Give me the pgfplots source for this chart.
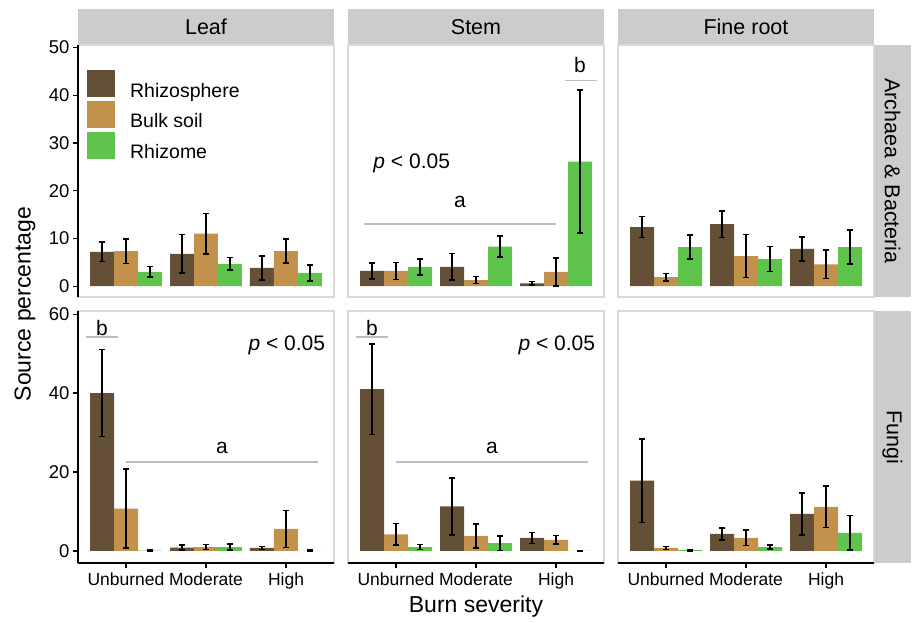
\documentclass[border=0pt]{standalone}
\usepackage{pgfplots}
\pgfplotsset{compat=1.18}
\usepackage{pgfplotstable}
\usepackage{fontspec}
\setmainfont{Liberation Sans}
\definecolor{crh}{HTML}{635036}
\definecolor{cbs}{HTML}{C2914B}
\definecolor{crz}{HTML}{5EC44C}
\definecolor{stripc}{HTML}{CCCCCC}
\definecolor{pborder}{HTML}{D9D9D9}
\definecolor{annot}{HTML}{BDBDBD}

% x: burn severity (1 Unburned, 2 Moderate, 3 High); rh/bs/rz = Rhizosphere/Bulk soil/Rhizome, *e = error
\pgfplotstableread{
x rh rhe bs bse rz rze
1 7.2 2.0 7.35 2.6 3.0 1.1
2 6.8 4.0 11.0 4.2 4.7 1.3
3 3.85 2.5 7.35 2.5 2.8 1.65
}\leafAB
\pgfplotstableread{
x rh rhe bs bse rz rze
1 3.2 1.7 3.2 1.8 4.05 1.65
2 4.05 2.8 1.3 0.7 8.3 2.2
3 0.6 0.4 3.0 2.9 26.1 15.0
}\stemAB
\pgfplotstableread{
x rh rhe bs bse rz rze
1 12.4 2.2 1.9 0.8 8.2 2.5
2 13.0 2.8 6.3 4.5 5.7 2.65
3 7.8 2.55 4.6 3.0 8.2 3.6
}\rootAB
\pgfplotstableread{
x rh rhe bs bse rz rze
1 40.0 11.0 10.7 10.0 0.1 0.2
2 0.85 0.6 1.0 0.65 1.0 0.7
3 0.75 0.4 5.6 4.7 0.05 0.2
}\leafF
\pgfplotstableread{
x rh rhe bs bse rz rze
1 41.0 11.5 4.2 2.75 1.0 0.6
2 11.3 7.2 3.8 3.0 2.0 1.85
3 3.3 1.4 2.8 1.1 0.05 0.1
}\stemF
\pgfplotstableread{
x rh rhe bs bse rz rze
1 17.8 10.6 0.75 0.35 0.2 0.2
2 4.3 1.5 3.3 1.95 1.0 0.55
3 9.4 5.3 11.2 5.25 4.6 4.4
}\rootF

\pgfplotsset{
  facet/.style={scale only axis, width=256pt, height=252pt, xmin=0.4, xmax=3.6,
    axis line style={draw=pborder, line width=1.2pt},
    tick align=outside, major tick length=5pt,
    tick style={black, line width=1.3pt},
    ytick pos=left, xtick pos=lower,
    xtick={1,2,3}, xticklabels={Unburned,Moderate,High},
    xticklabel style={font=\fontsize{17.5}{20}\selectfont, text=black, yshift=-1.5pt},
    yticklabel style={font=\fontsize{18.5}{20}\selectfont, text=black},
    /pgf/number format/assume math mode=true, clip=false},
  toprow/.style={ymin=-2.25, ymax=50.5, ytick={0,10,20,30,40,50}, xtick=\empty},
  botrow/.style={ymin=-3.05, ymax=60.8, ytick={0,20,40,60}},
  inner/.style={ytick=\empty},
  barstyle/.style={ybar, bar width=0.3, bar shift=0pt, draw=none, forget plot,
    error bars/y dir=both, error bars/y explicit,
    error bars/error mark=-,
    error bars/error bar style={draw=black, line width=1.7pt},
    error bars/error mark options={rotate=90, draw=black, line width=1.6pt, mark size=2.7pt}},
  annline/.style={annot, line width=1.4pt, forget plot, mark=none},
  boxleg/.style={legend image code/.code={\fill[##1, draw=none] (0pt,-6.7pt) rectangle (28pt,20.3pt);}},
}
\newcommand{\bars}[1]{%
  \addplot[barstyle, fill=crh] table[x expr=\thisrow{x}-0.3, y=rh, y error=rhe]{#1};
  \addplot[barstyle, fill=cbs] table[x expr=\thisrow{x}, y=bs, y error=bse]{#1};
  \addplot[barstyle, fill=crz] table[x expr=\thisrow{x}+0.3, y=rz, y error=rze]{#1};
}
\newcommand{\axleft}{\draw[black, line width=1.3pt] (rel axis cs:0,0) -- (rel axis cs:0,1);}
\newcommand{\axbottom}{\draw[black, line width=1.3pt] (rel axis cs:0,0) -- (rel axis cs:1,0);}
\newcommand{\anfont}{\fontsize{21}{24}\selectfont}

\begin{document}
\begin{tikzpicture}[x=1pt, y=1pt]
\useasboundingbox (0,0) rectangle (914,623);
% strips
\fill[stripc] (78,578) rectangle (334,614);
\fill[stripc] (348,578) rectangle (604,614);
\fill[stripc] (618,578) rectangle (874,614);
\fill[stripc] (874,326) rectangle (911,578);
\fill[stripc] (874,60) rectangle (911,312);
\node[font=\fontsize{21.5}{24}\selectfont] at (206,596) {Leaf};
\node[font=\fontsize{21.5}{24}\selectfont] at (476,596) {Stem};
\node[font=\fontsize{21.5}{24}\selectfont] at (746,596) {Fine root};
\node[font=\fontsize{21.5}{24}\selectfont, rotate=-90] at (892.5,452) {Archaea \& Bacteria};
\node[font=\fontsize{21.5}{24}\selectfont, rotate=-90] at (892.5,186) {Fungi};
\node[font=\fontsize{23}{26}\selectfont, rotate=90] at (25,319) {Source percentage};
\node[font=\fontsize{23}{26}\selectfont] at (476,16) {Burn severity};

% Top row
\begin{axis}[facet, toprow, at={(78pt,326pt)}, anchor=south west,
  legend style={at={(0.035,0.90)}, anchor=north west, draw=none, fill=none, inner sep=0pt,
    font=\fontsize{19.5}{22}\selectfont, row sep=0.5pt, legend cell align=left,
    /tikz/every odd column/.append style={column sep=13pt}}]
  \bars{\leafAB}
  \axleft
  \addlegendimage{boxleg, fill=crh}
  \addlegendentry{Rhizosphere}
  \addlegendimage{boxleg, fill=cbs}
  \addlegendentry{Bulk soil}
  \addlegendimage{boxleg, fill=crz}
  \addlegendentry{Rhizome}
\end{axis}
\begin{axis}[facet, toprow, inner, at={(348pt,326pt)}, anchor=south west]
  \bars{\stemAB}
  \addplot[annline] coordinates {(0.6,13.0) (3.0,13.0)};
  \addplot[annline] coordinates {(3.11,43.1) (3.51,43.1)};
  \node[anchor=base, font=\anfont] at (axis cs:1.8,16.5) {a};
  \node[anchor=base, font=\anfont] at (axis cs:3.3,44.7) {b};
  \node[anchor=base west, font=\anfont, inner sep=0pt] at (axis cs:0.716,24.6) {\textit{p} < 0.05};
\end{axis}
\begin{axis}[facet, toprow, inner, at={(618pt,326pt)}, anchor=south west]
  \bars{\rootAB}
\end{axis}

% Bottom row
\begin{axis}[facet, botrow, at={(78pt,60pt)}, anchor=south west]
  \bars{\leafF}
  \addplot[annline] coordinates {(0.5,54.2) (0.9,54.2)};
  \addplot[annline] coordinates {(1.0,22.5) (3.4,22.5)};
  \node[anchor=base, font=\anfont] at (axis cs:0.7,54.6) {b};
  \node[anchor=base, font=\anfont] at (axis cs:2.2,24.6) {a};
  \node[anchor=base east, font=\anfont, inner sep=0pt] at (axis cs:3.49,50.9) {\textit{p} < 0.05};
  \axleft
  \axbottom
\end{axis}
\begin{axis}[facet, botrow, inner, at={(348pt,60pt)}, anchor=south west]
  \bars{\stemF}
  \addplot[annline] coordinates {(0.5,54.2) (0.9,54.2)};
  \addplot[annline] coordinates {(1.0,22.5) (3.4,22.5)};
  \node[anchor=base, font=\anfont] at (axis cs:0.7,54.6) {b};
  \node[anchor=base, font=\anfont] at (axis cs:2.2,24.6) {a};
  \node[anchor=base east, font=\anfont, inner sep=0pt] at (axis cs:3.49,50.9) {\textit{p} < 0.05};
  \axbottom
\end{axis}
\begin{axis}[facet, botrow, inner, at={(618pt,60pt)}, anchor=south west]
  \bars{\rootF}
  \axbottom
\end{axis}
\end{tikzpicture}
\end{document}
